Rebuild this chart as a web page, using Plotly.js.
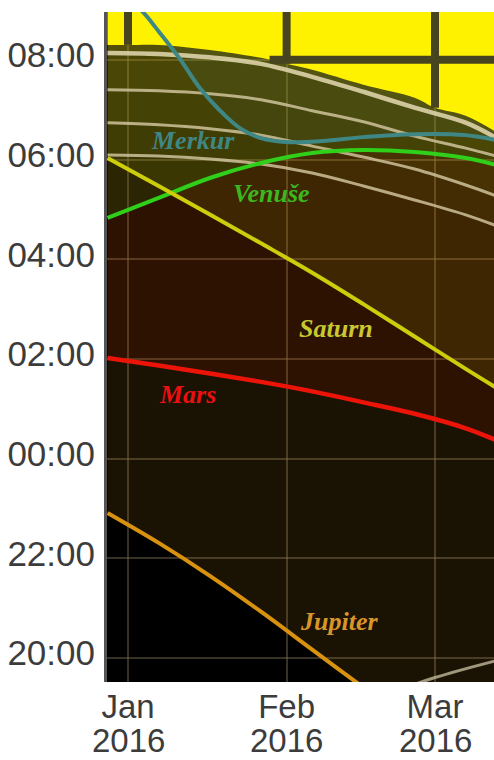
<!DOCTYPE html>
<html>
<head>
<meta charset="utf-8">
<script src="https://cdn.plot.ly/plotly-3.0.1.min.js"></script>
<style>html,body{margin:0;padding:0;background:#fff;}#chart{width:494px;height:760px;}</style>
</head>
<body>
<div id="chart"></div>
<script>
// ---------- DATA (hours: 0 = 00:00, negative = evening before) ----------
const dates = ['2015-12-28','2016-01-07','2016-01-17','2016-01-27','2016-02-06','2016-02-16','2016-02-26','2016-03-07','2016-03-13'];

const dayDates = ['2015-12-28','2016-01-01','2016-01-07','2016-01-17','2016-01-27','2016-02-01','2016-02-06','2016-02-16','2016-02-26','2016-03-01','2016-03-07','2016-03-13'];
const daylightEdge = [8.30, 8.30, 8.30, 8.20, 8.04, 7.92, 7.80, 7.50, 7.24, 7.04, 6.88, 6.55];

const twilightA = [8.14, 8.12, 8.05, 7.92, 7.66, 7.36, 7.04, 6.74, 6.43];
const twilightB = [7.40, 7.38, 7.32, 7.20, 6.98, 6.76, 6.47, 6.23, 6.07];
const twilightC = [6.74, 6.70, 6.62, 6.49, 6.27, 6.05, 5.81, 5.49, 5.27];
const twilightD = [6.09, 6.07, 6.01, 5.91, 5.73, 5.47, 5.19, 4.89, 4.67];

const eveningDates = ['2016-02-20','2016-03-01','2016-03-13'];
const eveningTwilight = [-4.75, -4.39, -4.05];

const merkurDates = ['2015-12-30','2016-01-04','2016-01-07','2016-01-11','2016-01-15','2016-01-19','2016-01-23','2016-01-27','2016-02-01','2016-02-08','2016-02-16','2016-02-26','2016-03-07','2016-03-13'];
const merkur  = [9.45, 8.95, 8.57, 8.04, 7.44, 6.98, 6.62, 6.43, 6.35, 6.37, 6.45, 6.51, 6.49, 6.39];
const venuse  = [4.83, 5.23, 5.63, 5.93, 6.13, 6.19, 6.15, 6.03, 5.89];
const saturn  = [6.03, 5.47, 4.90, 4.32, 3.73, 3.10, 2.45, 1.80, 1.42];
const mars    = [2.02, 1.87, 1.71, 1.54, 1.35, 1.13, 0.90, 0.61, 0.37];
const jupiter = [-1.09, -1.69, -2.35, -3.07, -3.83, -4.59, -5.35, -6.10, -6.55];

const monthTicks  = ['2016-01-01','2016-02-01','2016-03-01'];
const monthLabels = ['Jan','Feb','Mar'];
const yearLabels  = ['2016','2016','2016'];
const hourTicks   = [-4, -2, 0, 2, 4, 6, 8];
const hourLabels  = ['20:00','22:00','00:00','02:00','04:00','06:00','08:00'];

const planetNames = ['Merkur','Venuše','Saturn','Mars','Jupiter'];
// ---------- END DATA ----------

const TOP = 10;
const X_RANGE = ['2015-12-27 21:30','2016-03-12 12:45'];
const Y_RANGE = [-4.48, 8.96];

const colors = {
  Merkur: '#3f8784', 'Venuše': '#2fcf1a', Saturn: '#cdcd0c', Mars: '#ec1409', Jupiter: '#d8920f'
};
const labelColors = {
  Merkur: '#3f8784', 'Venuše': '#3cb81e', Saturn: '#c8c830', Mars: '#e81010', Jupiter: '#d8952a'
};
const fillColors = {
  Jupiter: 'rgba(215,145,15,0.12)',
  Mars: 'rgba(235,20,10,0.095)',
  Saturn: 'rgba(205,205,10,0.115)',
  'Venuše': 'rgba(40,210,20,0.10)',
  Merkur: 'rgba(60,130,125,0.08)'
};
const series = {
  Merkur: [merkurDates, merkur],
  'Venuše': [dates, venuse],
  Saturn: [dates, saturn],
  Mars: [dates, mars],
  Jupiter: [dates, jupiter]
};

const traces = [];
function fillAbove(xs, ys, color) {
  traces.push({x: xs, y: xs.map(() => TOP), mode: 'lines', line: {width: 0}, hoverinfo: 'skip', showlegend: false});
  traces.push({x: xs, y: ys, mode: 'lines', fill: 'tonexty', fillcolor: color,
               line: {width: 0, shape: 'spline'}, hoverinfo: 'skip', showlegend: false});
}

// planet translucent fills (planet above horizon)
['Jupiter','Mars','Saturn','Venuše','Merkur'].forEach(n => fillAbove(series[n][0], series[n][1], fillColors[n]));
// twilight brightening (yellowish)
[twilightD, twilightC, twilightB].forEach(t => fillAbove(dates, t, 'rgba(235,220,70,0.035)'));
fillAbove(dates, twilightA, 'rgba(235,220,70,0.06)');
// daylight (opaque)
fillAbove(dayDates, daylightEdge, '#fff200');

// thick grid lines visible over daylight
const gx = [], gy = [];
monthTicks.forEach(d => {
  const i = dayDates.indexOf(d);
  if (i >= 0) { gx.push(d, d, null); gy.push(daylightEdge[i], TOP, null); }
});
function toMs(s){ return new Date(s.replace(' ','T') + 'Z').getTime(); }
function toStr(ms){ return new Date(ms).toISOString().replace('T',' ').slice(0,19); }
hourTicks.forEach(h => {
  for (let i = 0; i < dayDates.length - 1; i++) {
    const a = daylightEdge[i], b = daylightEdge[i+1];
    if (a >= h && b < h) {
      const t = (a - h) / (a - b);
      const m = toMs(dayDates[i]) + t * (toMs(dayDates[i+1]) - toMs(dayDates[i]));
      gx.push(toStr(m), dayDates[dayDates.length-1], null);
      gy.push(h, h, null);
    }
  }
});
traces.push({x: gx, y: gy, mode: 'lines', line: {color: '#47451f', width: 8}, hoverinfo: 'skip', showlegend: false});

// twilight lines
traces.push({x: dates, y: twilightA, mode: 'lines', line: {color: 'rgba(228,218,178,0.85)', width: 4.5, shape: 'spline'}, hoverinfo: 'skip'});
[twilightB, twilightC, twilightD].forEach(t => traces.push({x: dates, y: t, mode: 'lines',
  line: {color: 'rgba(215,202,165,0.8)', width: 3, shape: 'spline'}, hoverinfo: 'skip'}));
traces.push({x: eveningDates, y: eveningTwilight, mode: 'lines', line: {color: 'rgba(205,195,165,0.75)', width: 3, shape: 'spline'}, hoverinfo: 'skip'});

// planet lines
const widths = {Merkur: 4, 'Venuše': 4, Saturn: 4, Mars: 4.5, Jupiter: 4};
planetNames.forEach(n => traces.push({x: series[n][0], y: series[n][1], mode: 'lines', name: n,
  line: {color: colors[n], width: widths[n], shape: 'spline'}}));

const labelPos = {
  Merkur: ['2016-01-13 17:00', 6.39],
  'Venuše': ['2016-01-28 23:00', 5.31],
  Saturn: ['2016-02-10 15:00', 2.62],
  Mars: ['2016-01-12 17:00', 1.28],
  Jupiter: ['2016-02-11 05:00', -3.26]
};
const annotations = planetNames.map(n => ({
  x: labelPos[n][0], y: labelPos[n][1], xref: 'x', yref: 'y', showarrow: false,
  text: '<b><i>' + n + '</i></b>', xanchor: 'center', yanchor: 'middle',
  font: {family: 'Liberation Serif, Times New Roman, serif', size: 26, color: labelColors[n]}
}));

const tickFont = {family: 'Liberation Sans, Arial, sans-serif', size: 33, color: '#3c3c3c'};
monthTicks.forEach((d, i) => annotations.push({
  x: d, y: -0.088, xref: 'x', yref: 'paper', showarrow: false, text: yearLabels[i],
  xanchor: 'center', yanchor: 'middle', font: tickFont
}));

const layout = {
  width: 494, height: 760,
  margin: {l: 107, r: 0, t: 12, b: 78, pad: 0},
  paper_bgcolor: '#ffffff', plot_bgcolor: '#000000',
  showlegend: false,
  xaxis: {type: 'date', range: X_RANGE, tickmode: 'array', tickvals: monthTicks, ticktext: monthLabels,
          showgrid: true, gridcolor: 'rgba(125,110,85,0.45)', gridwidth: 2, zeroline: false,
          ticks: '', tickfont: tickFont, ticklabelstandoff: 2, fixedrange: true},
  yaxis: {range: Y_RANGE, tickmode: 'array', tickvals: hourTicks, ticktext: hourLabels,
          showgrid: true, gridcolor: 'rgba(125,110,85,0.45)', gridwidth: 2, zeroline: false,
          ticks: '', tickfont: Object.assign({}, tickFont, {size: 35}), ticklabelstandoff: 2, ticklabelshift: -5,
          showline: true, linecolor: '#555555', linewidth: 3, fixedrange: true},
  annotations: annotations
};

Plotly.newPlot('chart', traces, layout, {displayModeBar: false, staticPlot: true});
</script>
</body>
</html>
